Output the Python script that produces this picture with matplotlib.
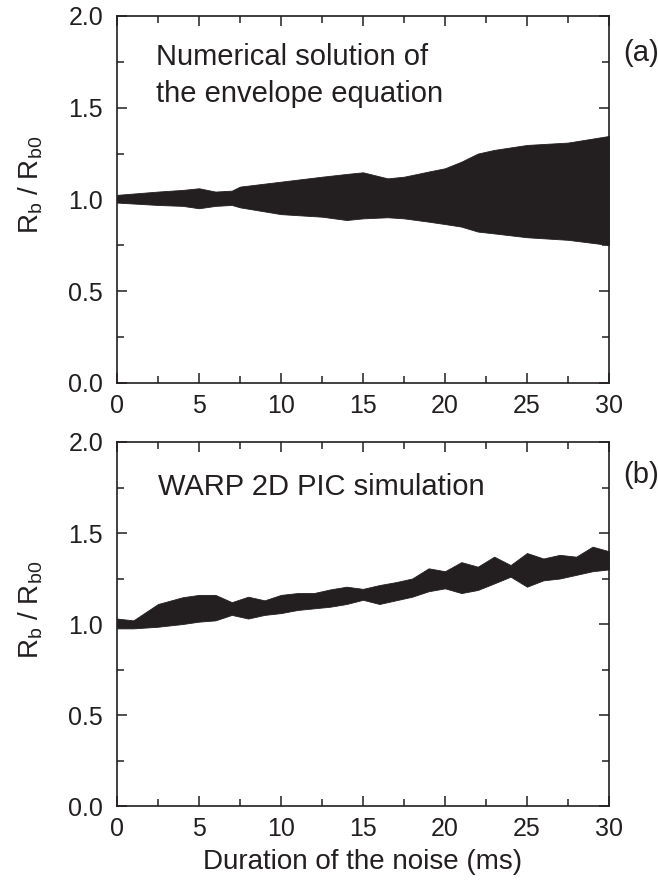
import numpy as np
import matplotlib
matplotlib.use('Agg')
import matplotlib.pyplot as plt
from matplotlib.ticker import MultipleLocator, FormatStrFormatter

plt.rcParams['font.family'] = ['Liberation Sans', 'DejaVu Sans']
plt.rcParams['mathtext.default'] = 'regular'

# envelope of the oscillation, panel (a): numerical solution
t_a = [0, 2.5, 4, 5, 6, 7, 7.5, 10, 12.5, 14, 15, 16.5, 17.5, 19, 20, 21, 22, 23, 25, 27.5, 30]
upper_a = [1.025, 1.043, 1.052, 1.061, 1.043, 1.048, 1.07, 1.097, 1.124, 1.139, 1.148,
           1.115, 1.124, 1.152, 1.17, 1.206, 1.25, 1.27, 1.297, 1.31, 1.346]
lower_a = [0.983, 0.97, 0.965, 0.952, 0.965, 0.97, 0.957, 0.92, 0.906, 0.888, 0.897,
           0.903, 0.897, 0.879, 0.866, 0.852, 0.825, 0.815, 0.794, 0.78, 0.752]

# envelope of the oscillation, panel (b): WARP 2D PIC
t_b = [0, 1, 2.5, 4, 5, 6, 7, 8, 9, 10, 11, 12, 13, 14, 15, 16, 17, 18, 19, 20,
       21, 22, 23, 24, 25, 26, 27, 28, 29, 30]
upper_b = [1.03, 1.02, 1.11, 1.147, 1.16, 1.16, 1.12, 1.15, 1.13, 1.16, 1.17, 1.17, 1.19,
           1.205, 1.193, 1.214, 1.23, 1.25, 1.306, 1.29, 1.34, 1.315, 1.37, 1.324, 1.39,
           1.36, 1.38, 1.37, 1.425, 1.40]
lower_b = [0.976, 0.976, 0.985, 1.0, 1.013, 1.02, 1.05, 1.03, 1.05, 1.06, 1.077, 1.086,
           1.095, 1.11, 1.133, 1.11, 1.13, 1.15, 1.18, 1.196, 1.17, 1.187, 1.223, 1.26,
           1.205, 1.24, 1.25, 1.27, 1.29, 1.30]

ink = '#231f20'
fig = plt.figure(figsize=(6.58, 8.81), dpi=100)
ax_a = fig.add_axes([0.1778, 0.5653, 0.7477, 0.4166])
ax_b = fig.add_axes([0.1778, 0.0851, 0.7477, 0.4132])

for ax, t, up, lo in [(ax_a, t_a, upper_a, lower_a), (ax_b, t_b, upper_b, lower_b)]:
    ax.fill_between(t, lo, up, color=ink, lw=0.6, edgecolor=ink)
    ax.set_xlim(0, 30)
    ax.set_ylim(0, 2)
    ax.xaxis.set_major_locator(MultipleLocator(5))
    ax.xaxis.set_minor_locator(MultipleLocator(2.5))
    ax.yaxis.set_major_locator(MultipleLocator(0.5))
    ax.yaxis.set_minor_locator(MultipleLocator(0.25))
    ax.yaxis.set_major_formatter(FormatStrFormatter('%.1f'))
    ax.tick_params(which='both', direction='in', top=True, right=True,
                   width=1.1, labelsize=18, colors=ink)
    ax.tick_params(axis='x', which='both', pad=8)
    ax.tick_params(axis='y', which='both', pad=10)
    ax.tick_params(which='major', length=7.5)
    ax.tick_params(which='minor', length=4.8)
    for s in ax.spines.values():
        s.set_linewidth(1.2)
        s.set_color(ink)
    ax.set_ylabel(r'R$_b$ / R$_{b0}$', fontsize=20, color=ink)
    ax.yaxis.set_label_coords(-0.146, 0.54)

ax_a.text(2.4, 1.733, 'Numerical solution of', fontsize=21, color=ink, va='baseline')
ax_a.text(2.4, 1.533, 'the envelope equation', fontsize=21, color=ink, va='baseline')
ax_a.text(30.85, 1.80, '(a)', fontsize=21, color=ink, va='center', clip_on=False)

ax_b.text(2.5, 1.71, 'WARP 2D PIC simulation', fontsize=21, color=ink, va='baseline')
ax_b.text(30.85, 1.82, '(b)', fontsize=21, color=ink, va='center', clip_on=False)

ax_b.set_xlabel('Duration of the noise (ms)', fontsize=20, color=ink, labelpad=6)

fig.savefig('out.png', dpi=100)
